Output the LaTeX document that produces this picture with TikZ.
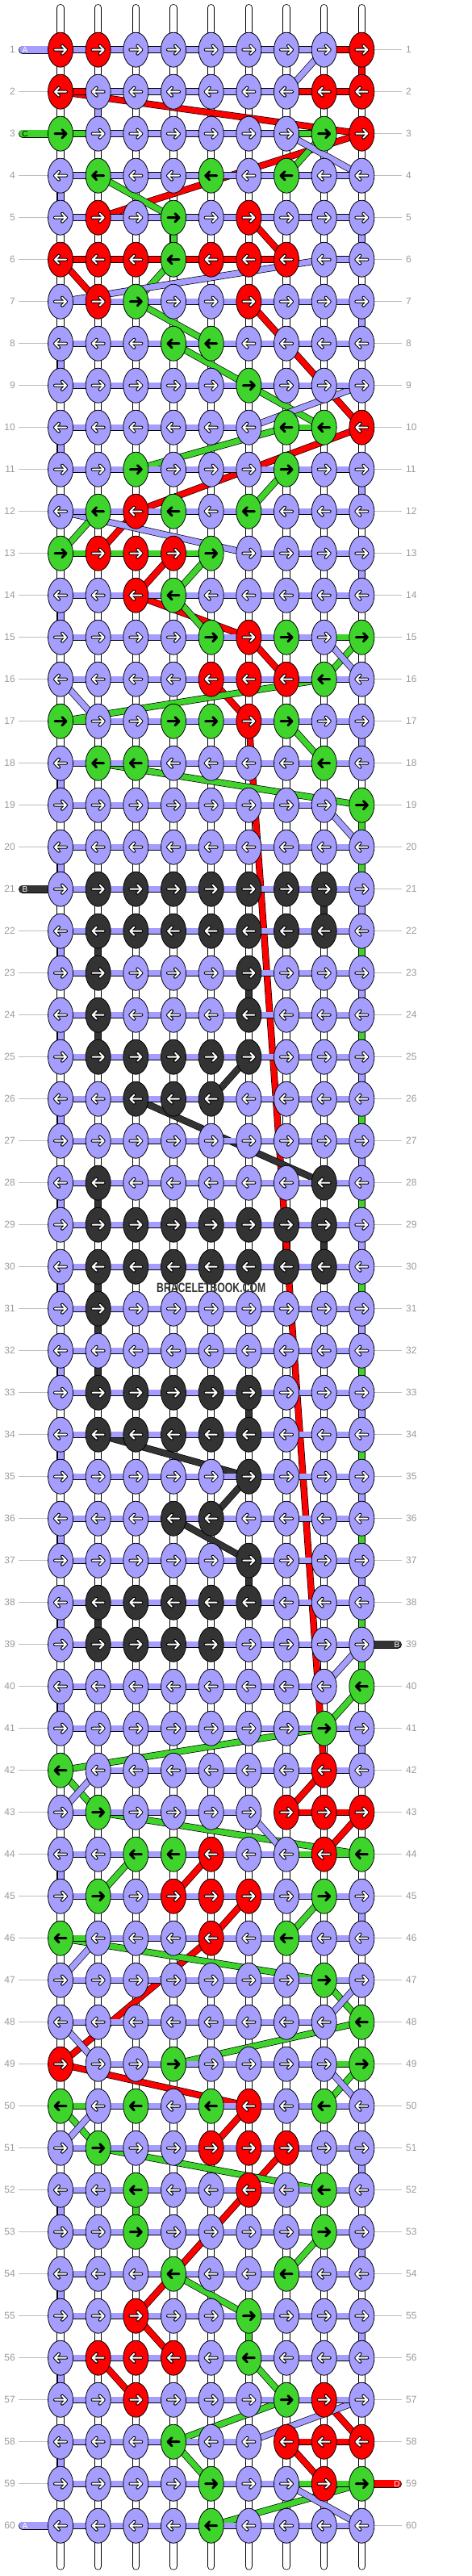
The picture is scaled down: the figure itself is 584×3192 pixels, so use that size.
\documentclass[tikz,border=0pt]{standalone}
\usepackage{fontspec}
\setmainfont{Liberation Sans}
\usepackage{graphicx}
\usetikzlibrary{shapes.geometric}

\pgfdeclarelayer{background}
\pgfsetlayers{background,main}

\definecolor{kL}{RGB}{166,158,255}
\definecolor{kR}{RGB}{255,0,0}
\definecolor{kG}{RGB}{62,212,44}
\definecolor{kD}{RGB}{51,51,51}
\definecolor{numgray}{RGB}{153,153,153}
\definecolor{linegray}{RGB}{190,190,190}

\newcommand{\whitearrow}{%
  \draw[black,line width=4pt,line cap=round,line join=round] (-7,0) -- (7,0) (2,-5) -- (7,0) -- (2,5);
  \draw[white,line width=2pt,line cap=round,line join=round] (-7,0) -- (7,0) (2,-5) -- (7,0) -- (2,5);}
\newcommand{\blackarrow}{%
  \draw[black,line width=3pt,line cap=round,line join=round] (-7,0) -- (7,0) (2,-5) -- (7,0) -- (2,5);}

\tikzset{
  knot/.style={ellipse,draw=black,line width=0.8pt,minimum width=31pt,minimum height=43pt,inner sep=0pt},
  strand/.style={draw=black,line width=0.7pt,double=#1,double distance=7pt},
  tube/.style={draw=black,line width=0.8pt,double=white,double distance=7.5pt,line cap=round},
  tail/.style={draw=black,line width=0.7pt,double=#1,double distance=8.5pt,line cap=round},
  rowline/.style={draw=linegray,line width=1pt},
  rownum/.style={text=numgray,font=\fontsize{12}{12}\selectfont,inner sep=0pt},
  tailtxt/.style={font=\fontsize{10}{10}\selectfont,inner sep=0pt},
  pics/arrL/.style={code=\whitearrow},
  pics/arrR/.style={code=\whitearrow},
  pics/arrD/.style={code=\whitearrow},
  pics/arrG/.style={code=\blackarrow},
}

\begin{document}
\begin{tikzpicture}[x=1pt,y=-1pt]
\useasboundingbox (0,0) rectangle (584,3192);

% knots, row by row
\foreach \r/\row in {
  1/{R,R,L,L,L,L,L,L,R}, 2/{R,L,L,L,L,L,L,R,R}, 3/{G,L,L,L,L,L,L,G,R},
  4/{L,G,L,L,G,L,G,L,L}, 5/{L,R,L,G,L,R,L,L,L}, 6/{R,R,R,G,R,R,R,L,L},
  7/{L,R,G,L,L,R,L,L,L}, 8/{L,L,L,G,G,L,L,L,L}, 9/{L,L,L,L,L,G,L,L,L},
  10/{L,L,L,L,L,L,G,G,R}, 11/{L,L,G,L,L,L,G,L,L}, 12/{L,G,R,G,L,G,L,L,L},
  13/{G,R,R,R,G,L,L,L,L}, 14/{L,L,R,G,L,L,L,L,L}, 15/{L,L,L,L,G,R,G,L,G},
  16/{L,L,L,L,R,R,R,G,L}, 17/{G,L,L,G,G,R,G,L,L}, 18/{L,G,G,L,L,L,L,G,L},
  19/{L,L,L,L,L,L,L,L,G}, 20/{L,L,L,L,L,L,L,L,L}, 21/{L,D,D,D,D,D,D,D,L},
  22/{L,D,D,D,D,D,D,D,L}, 23/{L,D,L,L,L,D,L,L,L}, 24/{L,D,L,L,L,D,L,L,L},
  25/{L,D,D,D,D,D,L,L,L}, 26/{L,L,D,D,D,L,L,L,L}, 27/{L,L,L,L,L,L,L,L,L},
  28/{L,D,L,L,L,L,L,D,L}, 29/{L,D,D,D,D,D,D,D,L}, 30/{L,D,D,D,D,D,D,D,L},
  31/{L,D,L,L,L,L,L,L,L}, 32/{L,L,L,L,L,L,L,L,L}, 33/{L,D,D,D,D,D,L,L,L},
  34/{L,D,D,D,D,D,L,L,L}, 35/{L,L,L,L,L,D,L,L,L}, 36/{L,L,L,D,D,L,L,L,L},
  37/{L,L,L,L,L,D,L,L,L}, 38/{L,D,D,D,D,D,L,L,L}, 39/{L,D,D,D,D,L,L,L,L},
  40/{L,L,L,L,L,L,L,L,G}, 41/{L,L,L,L,L,L,L,G,L}, 42/{G,L,L,L,L,L,L,R,L},
  43/{L,G,L,L,L,L,R,R,R}, 44/{L,L,G,G,R,L,L,R,G}, 45/{L,G,L,R,R,R,L,G,L},
  46/{G,L,L,L,R,L,G,L,L}, 47/{L,L,L,L,L,L,L,G,L}, 48/{L,L,L,L,L,L,L,L,G},
  49/{R,L,L,G,L,L,L,L,G}, 50/{G,L,G,L,G,R,L,G,L}, 51/{L,G,L,L,R,R,R,L,L},
  52/{L,L,G,L,L,R,L,G,L}, 53/{L,L,G,L,L,L,L,G,L}, 54/{L,L,L,G,L,L,G,L,L},
  55/{L,L,R,L,L,G,L,L,L}, 56/{L,R,R,R,L,G,L,L,L}, 57/{L,L,R,L,L,L,G,R,L},
  58/{L,L,L,G,L,L,R,R,R}, 59/{L,L,L,L,G,L,L,R,G}, 60/{L,L,L,L,G,L,L,L,L}}{
  \pgfmathsetmacro\dir{1-2*mod(\r+1,2)}
  \foreach \k [count=\c] in \row {
    \node[knot,fill=k\k] (k\r-\c) at ({28.33+46.67*\c},{9.7+52*\r}) {};
    \pic[xscale=\dir] at (k\r-\c) {arr\k};
  }
  \coordinate (ll\r) at (23,{9.7+52*\r});
  \coordinate (rl\r) at (498,{9.7+52*\r});
  \node[rownum,anchor=east] (nl\r) at (19,{9.7+52*\r}) {\r};
  \node[rownum,anchor=west] (nr\r) at (503,{9.7+52*\r}) {\r};
}

\foreach \c in {1,...,9}{
  \coordinate (top\c) at ({28.33+46.67*\c},9.6);
  \coordinate (bot\c) at ({28.33+46.67*\c},3180);
}
\coordinate (tA) at (28,61.7);
\coordinate (tC) at (28,165.7);
\coordinate (tB) at (28,1101.7);
\coordinate (tB2) at (493,2037.7);
\coordinate (tD) at (493,3077.7);
\coordinate (tA2) at (28,3129.7);

\begin{pgfonlayer}{background}
  % base strings
  \foreach \c in {1,...,9}
    \draw[tube] (top\c) -- (bot\c);
  \foreach \r in {1,...,60}{
    \draw[rowline] (ll\r) -- (k\r-1);
    \draw[rowline] (k\r-9) -- (rl\r);
  }

  % red floats
  \foreach \ra/\ca/\rb/\cb in {1/9/2/9, 2/1/3/9, 3/9/5/2, 5/6/6/7, 6/1/7/2,
      7/6/10/9, 10/9/12/3, 12/3/13/2, 13/4/14/3, 14/3/15/6, 15/6/16/7,
      16/5/17/6, 17/6/42/8, 42/8/43/7, 43/9/44/8, 44/5/45/4, 45/6/46/5,
      46/5/49/1, 49/1/50/6, 50/6/51/5, 51/7/52/6, 52/6/55/3, 55/3/56/4,
      56/2/57/3, 57/8/58/9, 58/7/59/8}
    \draw[strand=kR] (k\ra-\ca.center) -- (k\rb-\cb.center);

  % green floats
  \foreach \ra/\ca/\rb/\cb in {3/8/4/7, 4/2/5/4, 5/4/6/4, 6/4/7/3, 7/3/8/5,
      8/4/9/6, 9/6/10/8, 10/7/11/3, 11/7/12/6, 12/2/13/1, 13/5/14/4,
      14/4/15/5, 15/9/16/8, 16/8/17/1, 17/7/18/8, 18/2/19/9, 19/9/40/9,
      40/9/41/8, 41/8/42/1, 42/1/43/2, 43/2/44/9, 44/3/45/2, 45/8/46/7,
      46/1/47/8, 47/8/48/9, 48/9/49/4, 49/9/50/8, 50/1/51/2, 51/2/52/8,
      52/3/53/3, 53/8/54/7, 54/4/55/6, 55/6/56/6, 56/6/57/7, 57/7/58/4,
      58/4/59/5, 59/9/60/5}
    \draw[strand=kG] (k\ra-\ca.center) -- (k\rb-\cb.center);

  % dark floats
  \foreach \ra/\ca/\rb/\cb in {21/8/22/8, 22/2/23/2, 23/6/24/6, 24/2/25/2,
      25/6/26/5, 26/3/28/8, 28/2/29/2, 29/8/30/8, 30/2/31/2, 31/2/33/2,
      33/6/34/6, 34/2/35/6, 35/6/36/5, 36/4/37/6, 37/6/38/6, 38/2/39/2}
    \draw[strand=kD] (k\ra-\ca.center) -- (k\rb-\cb.center);

  % lavender floats
  \foreach \ra/\ca/\rb/\cb in {1/8/2/7, 2/2/3/2, 3/7/4/9, 4/1/5/1, 5/9/6/9,
      6/8/7/1, 7/9/8/9, 8/1/9/1, 9/9/10/6, 10/1/11/1, 11/9/12/9, 12/1/13/6,
      13/9/14/9, 14/1/15/1, 15/8/16/9, 16/1/17/2, 17/9/18/9, 18/1/19/1,
      19/8/20/9, 20/1/21/1, 21/9/22/9, 22/1/23/1, 23/9/24/9, 24/1/25/1,
      25/9/26/9, 26/1/27/1, 27/9/28/9, 28/1/29/1, 29/9/30/9, 30/1/31/1,
      31/9/32/9, 32/1/33/1, 33/9/34/9, 34/1/35/1, 35/9/36/9, 36/1/37/1,
      37/9/38/9, 38/1/39/1, 39/9/40/8, 40/1/41/1, 41/9/42/9, 42/2/43/1,
      43/6/44/7, 44/1/45/1, 45/9/46/9, 46/2/47/1, 47/9/48/8, 48/1/49/2,
      49/8/50/9, 50/2/51/1, 51/9/52/9, 52/1/53/1, 53/9/54/9, 54/1/55/1,
      55/9/56/9, 56/1/57/1, 57/9/58/6, 58/1/59/1, 59/7/60/9}
    \draw[strand=kL] (k\ra-\ca.center) -- (k\rb-\cb.center);

  % row bars
  \foreach \r in {4,5,7,8,9,11,12,14,16,18,20,21,22,23,24,25,26,27,28,29,30,
      31,32,33,34,35,36,37,38,39,41,45,47,51,52,53,54,55,56,57,60}
    \draw[strand=kL] (k\r-1.center) -- (k\r-9.center);
  \foreach \r/\ca/\cb/\cl in {1/1/8/kL, 1/8/9/kR, 2/1/2/kR, 2/2/7/kL,
      2/7/9/kR, 3/1/2/kG, 3/2/7/kL, 3/7/8/kG, 6/1/7/kR, 6/8/9/kL,
      10/1/6/kL, 10/7/8/kG, 13/1/5/kG, 13/6/9/kL, 15/1/8/kL, 15/8/9/kG,
      17/1/2/kG, 17/2/9/kL, 19/1/8/kL, 40/1/8/kL, 42/2/9/kL, 43/1/6/kL,
      43/7/9/kR, 44/1/7/kL, 44/7/9/kG, 46/1/2/kG, 46/2/9/kL, 48/1/8/kL,
      49/2/8/kL, 49/8/9/kG, 50/1/2/kG, 50/2/9/kL, 58/1/6/kL, 58/7/9/kR,
      59/1/7/kL, 59/7/9/kG}
    \draw[strand=\cl] (k\r-\ca.center) -- (k\r-\cb.center);

  % loose ends
  \draw[tail=kL] (tA) -- (k1-1.center);
  \draw[tail=kG] (tC) -- (k3-1.center);
  \draw[tail=kD] (tB) -- (k21-1.center);
  \draw[tail=kD] (k39-9.center) -- (tB2);
  \draw[tail=kR] (k59-9.center) -- (tD);
  \draw[tail=kL] (tA2) -- (k60-1.center);
  \node[tailtxt,text=white] (lA) at (31,61.7) {A};
  \node[tailtxt,text=black] (lC) at (31,165.7) {C};
  \node[tailtxt,text=white] (lB) at (31,1101.7) {B};
  \node[tailtxt,text=white] (lB2) at (492,2037.7) {B};
  \node[tailtxt,text=white] (lD) at (492,3077.7) {D};
  \node[tailtxt,text=white] (lA2) at (31,3129.7) {A};
\end{pgfonlayer}

\node[text=kD,inner sep=0pt] (mark) at (261.7,1596)
  {\fontsize{16.5}{16.5}\selectfont\bfseries\scalebox{0.74}[1]{BRACELETBOOK.COM}};
\end{tikzpicture}
\end{document}
